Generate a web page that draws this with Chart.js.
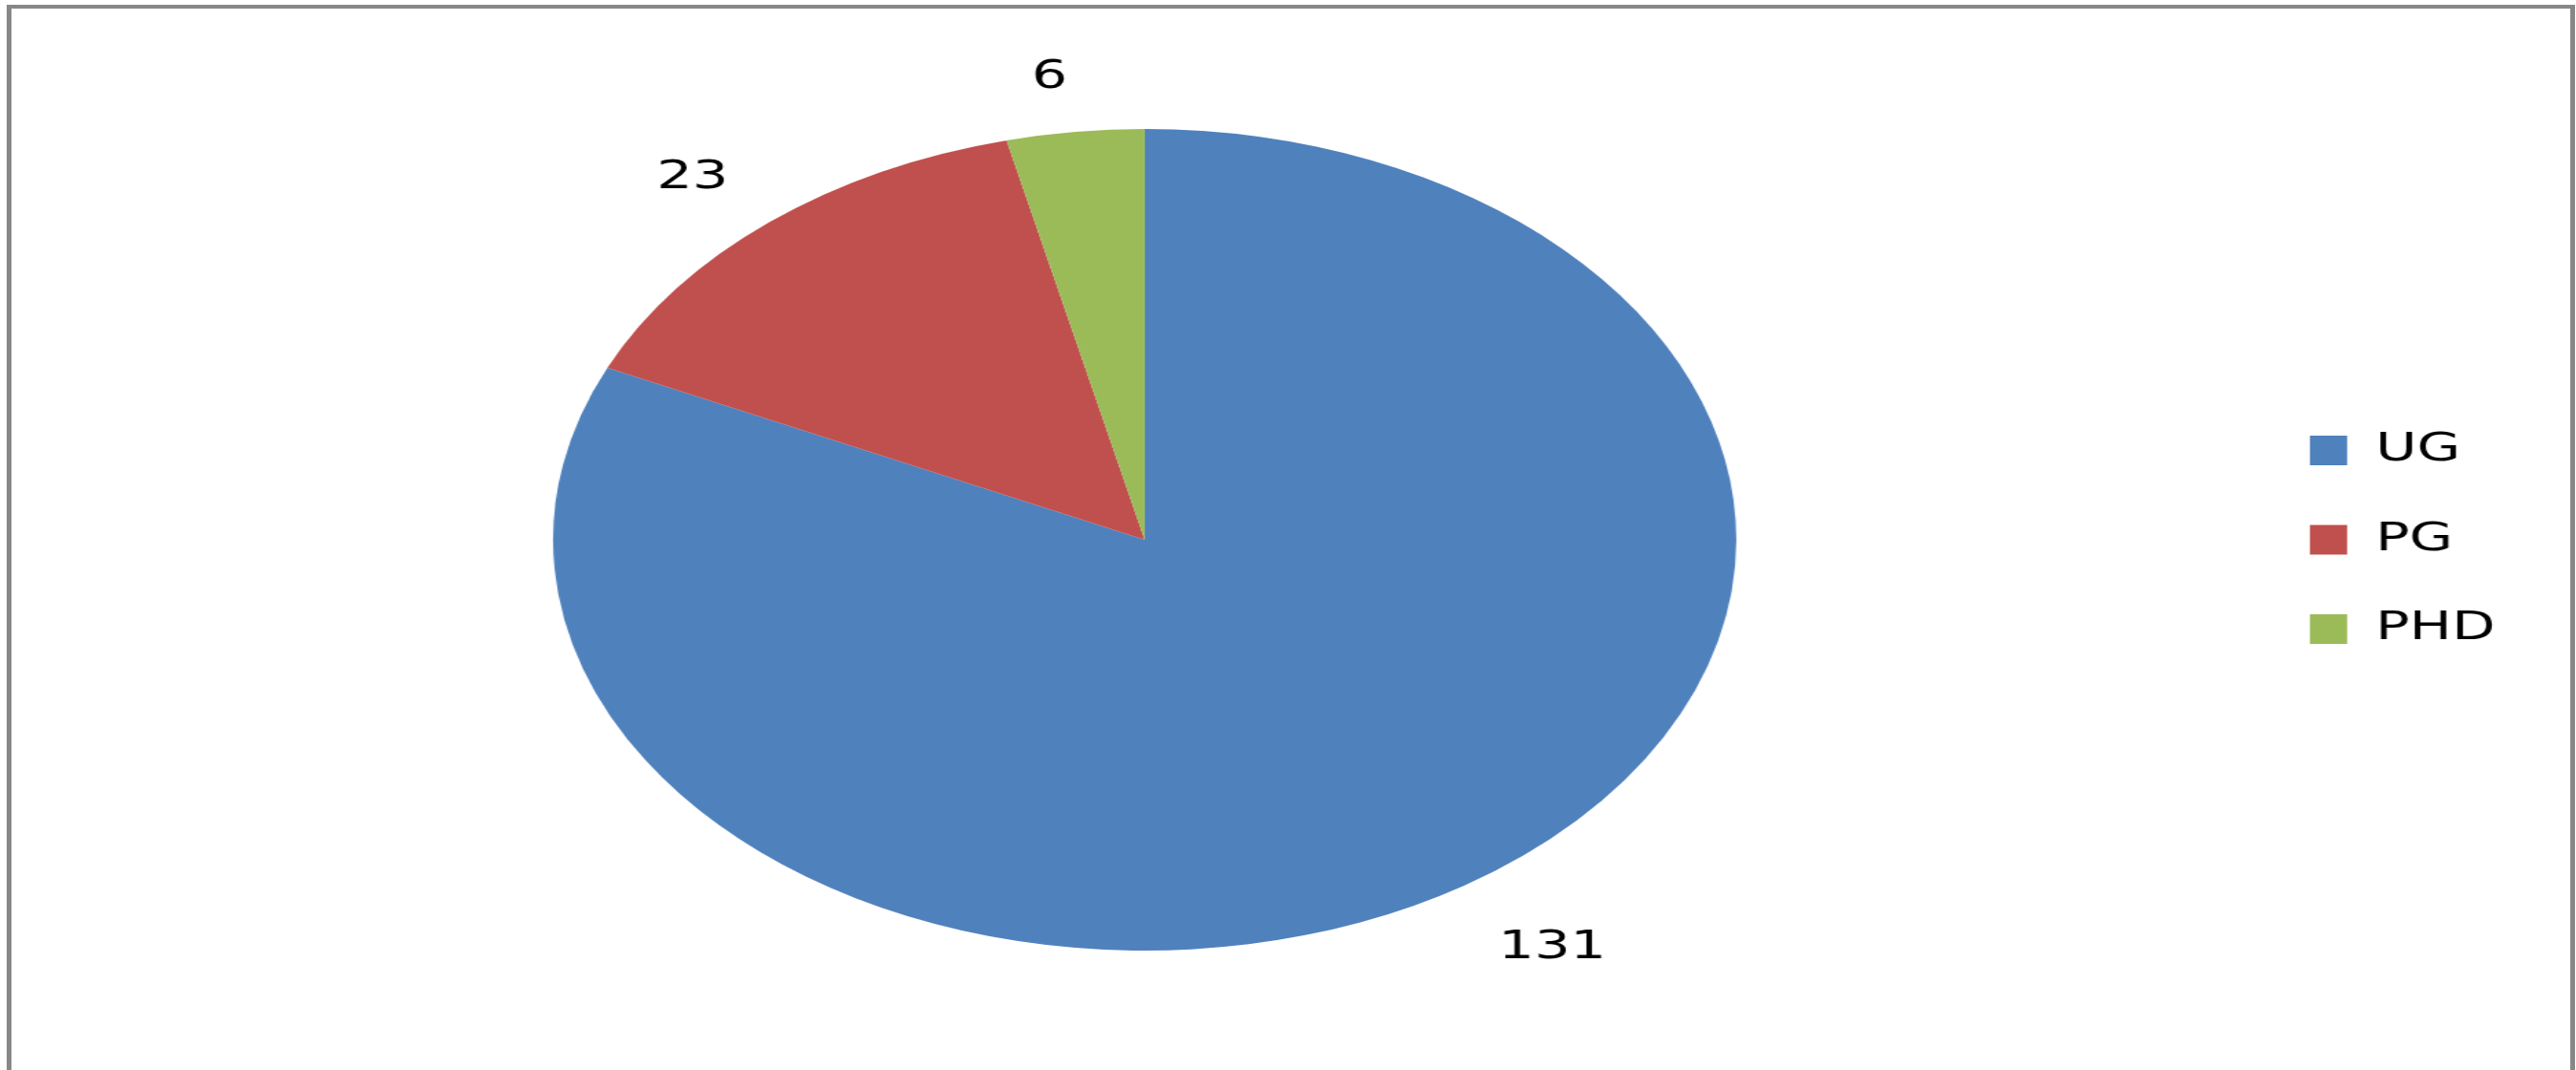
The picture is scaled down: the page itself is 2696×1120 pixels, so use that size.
<!DOCTYPE html>
<html>
<head>
<meta charset="utf-8">
<script src="https://cdn.jsdelivr.net/npm/chart.js@4/dist/chart.umd.min.js"></script>
<style>
    html, body { margin: 0; padding: 0; background: #fff; overflow: hidden; }
    body { width: 2696px; height: 1120px; position: relative; }
    /* 元の画像は横に 1.44 倍引き伸ばされているので同じように伸ばす */
    #wrap {
        position: absolute; left: 0; top: 0;
        width: 1872px; height: 1120px;
        transform: scaleX(1.44); transform-origin: 0 0;
    }
    #frame {
        position: absolute; left: 7px; top: 5px;
        width: 2688px; height: 1200px;
        box-sizing: border-box;
        border-top: 4px solid #878787;
        border-left: 5px solid #878787;
        border-right: 5px solid #878787;
        pointer-events: none;
    }
</style>
</head>
<body>
<div id="wrap"><canvas id="pieCanvas"></canvas></div>
<div id="frame"></div>
<script>
// データ
const labels = ["UG", "PG", "PHD"];
const counts = [131, 23, 6];
const colors = ["#4F81BD", "#C0504D", "#9BBB59"];

// 円の外側に値を描画 (Excel の「外部」ラベル風)
const outsideLabels = {
    id: 'outsideLabels',
    afterDatasetsDraw(chart) {
        const ctx = chart.ctx;
        const meta = chart.getDatasetMeta(0);
        const gap = 47;
        const halfH = 18;
        ctx.save();
        ctx.font = '41px "DejaVu Sans"';
        ctx.fillStyle = '#000';
        ctx.textAlign = 'center';
        ctx.textBaseline = 'middle';
        meta.data.forEach((arc, i) => {
            const { x, y, startAngle, endAngle, outerRadius } = arc.getProps(['x', 'y', 'startAngle', 'endAngle', 'outerRadius'], true);
            const mid = (startAngle + endAngle) / 2;
            const c = Math.cos(mid), s = Math.sin(mid);
            const text = String(counts[i]);
            const halfW = ctx.measureText(text).width / 2;
            const lx = x + c * (outerRadius + gap) + Math.sign(c) * halfW;
            // 文字の見た目の中心を少し下げる
            const ly = y + s * (outerRadius + gap) + Math.sign(s) * halfH + 8;
            ctx.fillText(text, lx, ly);
        });
        ctx.restore();
    }
};

const ctx = document.getElementById('pieCanvas').getContext('2d');
window.myChart = new Chart(ctx, {
    type: 'pie',
    data: {
        labels: labels,
        datasets: [{
            data: counts,
            backgroundColor: colors,
            borderWidth: 0,
            hoverOffset: 0
        }]
    },
    options: {
        responsive: true,
        maintainAspectRatio: false,
        animation: false,
        layout: { padding: { left: 37.5, right: 48.5, top: 135, bottom: 125 } },
        plugins: {
            tooltip: { enabled: false },
            legend: {
                position: 'right',
                labels: {
                    boxWidth: 27,
                    boxHeight: 31,
                    padding: 52.5,
                    color: '#000',
                    font: { family: 'DejaVu Sans', size: 41 }
                }
            }
        }
    },
    plugins: [outsideLabels]
});
</script>
</body>
</html>
